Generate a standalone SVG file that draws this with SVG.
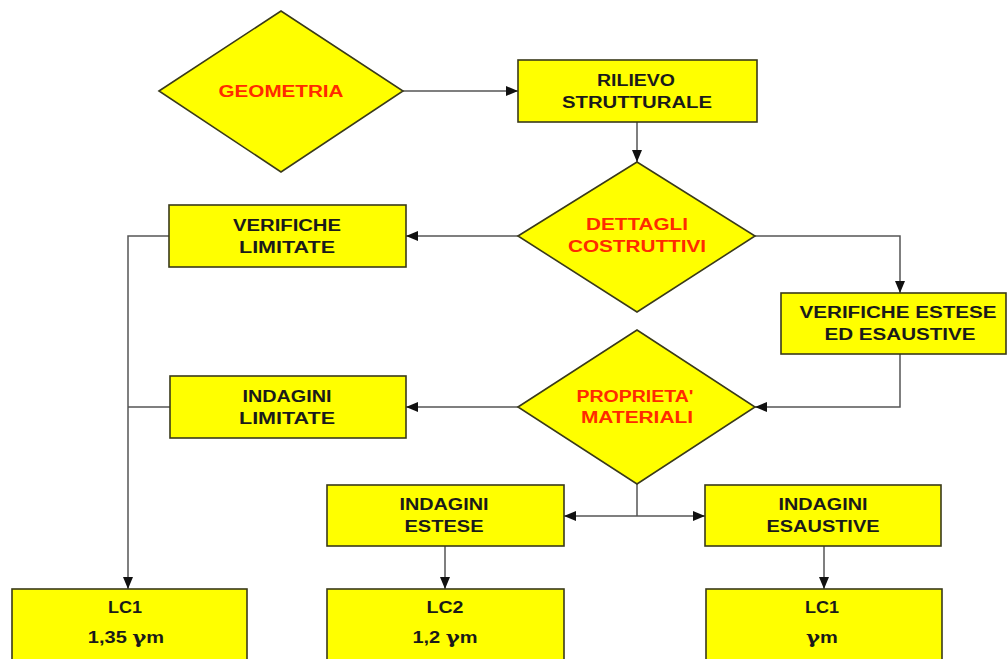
<svg xmlns="http://www.w3.org/2000/svg" width="1007" height="659" viewBox="0 0 1007 659">
<defs>
<style>
.box{fill:#ffff00;stroke:#3a3a1a;stroke-width:1.6}
.t{font-family:"Liberation Sans",Arial,sans-serif;font-weight:bold;font-size:16px;fill:#1a1a1a;text-anchor:middle}
.r{fill:#ff2a00}
.g{font-family:"DejaVu Serif","Liberation Serif",serif;font-weight:bold;font-size:17px}
.c{fill:none;stroke:#555;stroke-width:1.5}
</style>
<marker id="ah" markerUnits="userSpaceOnUse" markerWidth="13" markerHeight="11" refX="12" refY="5.5" orient="auto">
<path d="M0,0.5 L12,5.5 L0,10.5 z" fill="#111"/>
</marker>
</defs>
<rect width="1007" height="659" fill="#ffffff"/>
<g id="connectors">
<path class="c" d="M403,91 H518" marker-end="url(#ah)"/>
<path class="c" d="M637,122 V162" marker-end="url(#ah)"/>
<path class="c" d="M518,236 H406" marker-end="url(#ah)"/>
<path class="c" d="M755,236 H900 V293" marker-end="url(#ah)"/>
<path class="c" d="M900,354 V407 H755" marker-end="url(#ah)"/>
<path class="c" d="M518,407 H406" marker-end="url(#ah)"/>
<path class="c" d="M169,236 H128 V589" marker-end="url(#ah)"/>
<path class="c" d="M170,407 H128"/>
<path class="c" d="M637,484 V516"/>
<path class="c" d="M637,516 H564" marker-end="url(#ah)"/>
<path class="c" d="M637,516 H705" marker-end="url(#ah)"/>
<path class="c" d="M445,546 V589" marker-end="url(#ah)"/>
<path class="c" d="M824,546 V589" marker-end="url(#ah)"/>
</g>
<g id="geometria">
<polygon class="box" points="159,91 281,11 403,91 281,172"/>
<text class="t r" x="281" y="97" textLength="125" lengthAdjust="spacingAndGlyphs">GEOMETRIA</text>
</g>
<g id="rilievo">
<rect class="box" x="518" y="60" width="239" height="62"/>
<text class="t" x="636" y="86" textLength="78" lengthAdjust="spacingAndGlyphs">RILIEVO</text>
<text class="t" x="637" y="108" textLength="150" lengthAdjust="spacingAndGlyphs">STRUTTURALE</text>
</g>
<g id="dettagli">
<polygon class="box" points="518,236 637,162 755,236 637,312"/>
<text class="t r" x="637" y="230" textLength="102" lengthAdjust="spacingAndGlyphs">DETTAGLI</text>
<text class="t r" x="637" y="252" textLength="138" lengthAdjust="spacingAndGlyphs">COSTRUTTIVI</text>
</g>
<g id="verifiche-limitate">
<rect class="box" x="169" y="205" width="237" height="62"/>
<text class="t" x="287" y="231" textLength="108" lengthAdjust="spacingAndGlyphs">VERIFICHE</text>
<text class="t" x="287" y="253" textLength="96" lengthAdjust="spacingAndGlyphs">LIMITATE</text>
</g>
<g id="verifiche-estese">
<rect class="box" x="781" y="293" width="225" height="61"/>
<text class="t" x="898" y="318" textLength="197" lengthAdjust="spacingAndGlyphs">VERIFICHE ESTESE</text>
<text class="t" x="900" y="340" textLength="151" lengthAdjust="spacingAndGlyphs">ED ESAUSTIVE</text>
</g>
<g id="proprieta">
<polygon class="box" points="518,407 637,330 755,407 637,484"/>
<text class="t r" x="635" y="402" textLength="117" lengthAdjust="spacingAndGlyphs">PROPRIETA'</text>
<text class="t r" x="637" y="423" textLength="112" lengthAdjust="spacingAndGlyphs">MATERIALI</text>
</g>
<g id="indagini-limitate">
<rect class="box" x="170" y="376" width="236" height="62"/>
<text class="t" x="287" y="402" textLength="89" lengthAdjust="spacingAndGlyphs">INDAGINI</text>
<text class="t" x="287" y="424" textLength="96" lengthAdjust="spacingAndGlyphs">LIMITATE</text>
</g>
<g id="indagini-estese">
<rect class="box" x="327" y="485" width="237" height="61"/>
<text class="t" x="444" y="510" textLength="89" lengthAdjust="spacingAndGlyphs">INDAGINI</text>
<text class="t" x="444" y="532" textLength="79" lengthAdjust="spacingAndGlyphs">ESTESE</text>
</g>
<g id="indagini-esaustive">
<rect class="box" x="705" y="485" width="236" height="61"/>
<text class="t" x="823" y="510" textLength="89" lengthAdjust="spacingAndGlyphs">INDAGINI</text>
<text class="t" x="823" y="532" textLength="113" lengthAdjust="spacingAndGlyphs">ESAUSTIVE</text>
</g>
<g id="lc1-left">
<rect class="box" x="12" y="589" width="235" height="80"/>
<text class="t" x="125" y="613" textLength="34" lengthAdjust="spacingAndGlyphs">LC1</text>
<text class="t" transform="translate(126,643) scale(1.25,1)" x="0" y="0">1,35 <tspan class="g">γ</tspan>m</text>
</g>
<g id="lc2">
<rect class="box" x="327" y="589" width="237" height="80"/>
<text class="t" x="445" y="613" textLength="37" lengthAdjust="spacingAndGlyphs">LC2</text>
<text class="t" transform="translate(445,643) scale(1.25,1)" x="0" y="0">1,2 <tspan class="g">γ</tspan>m</text>
</g>
<g id="lc1-right">
<rect class="box" x="706" y="589" width="236" height="80"/>
<text class="t" x="822" y="613" textLength="34" lengthAdjust="spacingAndGlyphs">LC1</text>
<text class="t" transform="translate(822,643) scale(1.25,1)" x="0" y="0"><tspan class="g">γ</tspan>m</text>
</g>
</svg>
